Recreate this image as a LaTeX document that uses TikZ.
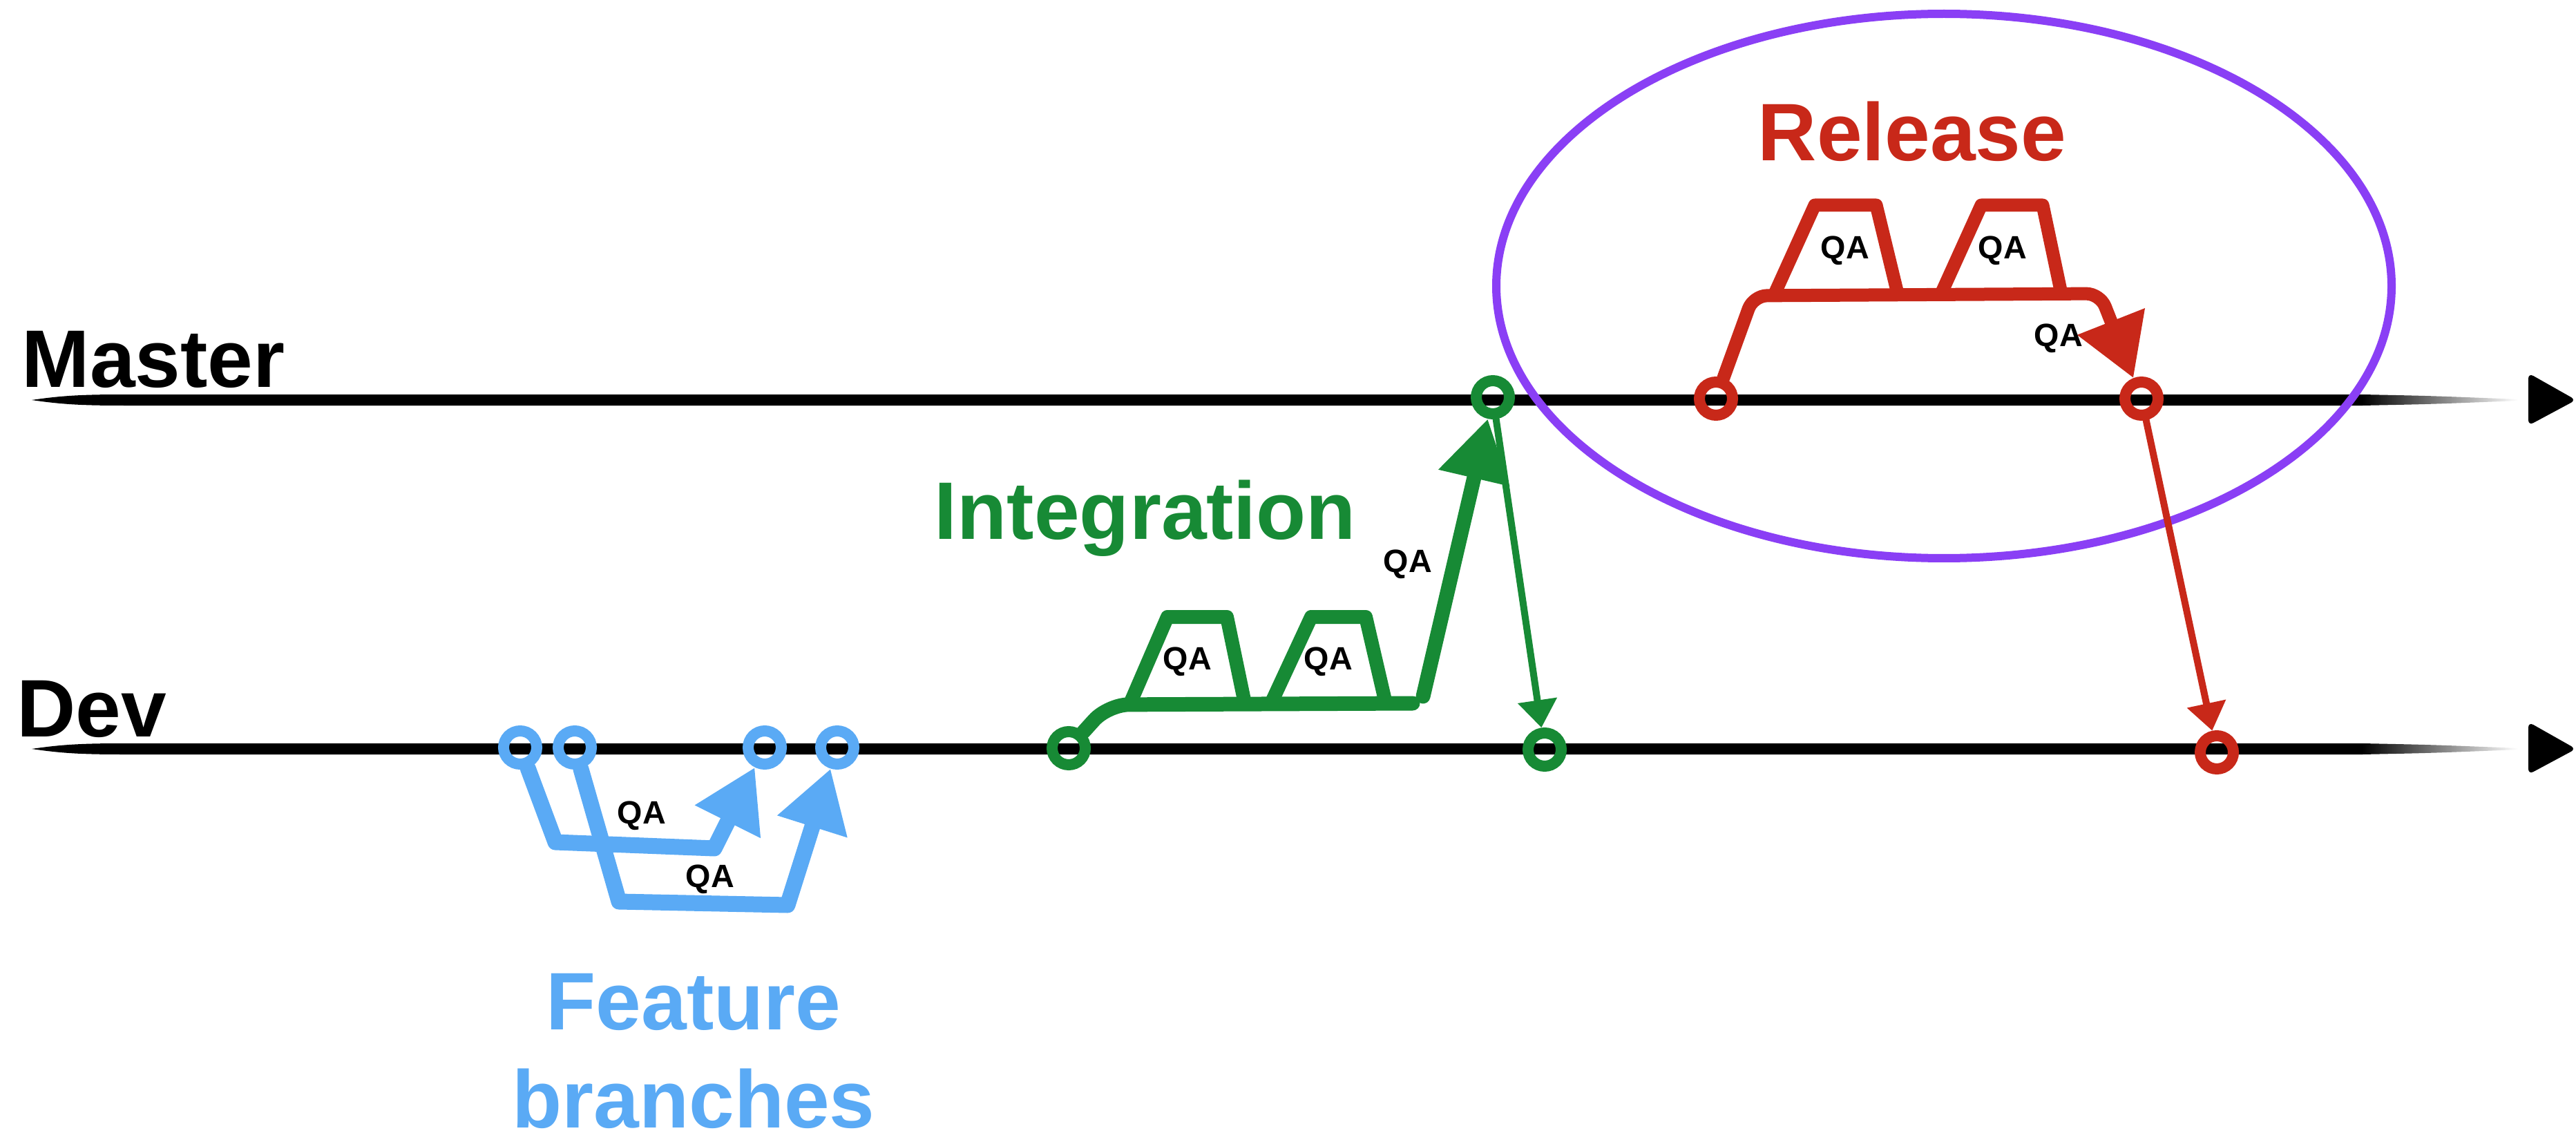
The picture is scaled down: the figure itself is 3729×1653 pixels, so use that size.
\documentclass[tikz,border=0pt]{standalone}
\usepackage{fontspec}
\setsansfont{Liberation Sans}
\usetikzlibrary{arrows.meta}
\definecolor{fblue}{RGB}{90,170,245}
\definecolor{igreen}{RGB}{23,138,53}
\definecolor{rred}{RGB}{200,40,25}
\definecolor{epurple}{RGB}{138,63,245}
\begin{document}
\begin{tikzpicture}[x=0.1mm,y=-0.1mm,
  ring/.style={circle,draw,line width=1.6mm,minimum size=4.8mm,inner sep=0pt},
  qa/.style={font=\sffamily\bfseries\fontsize{13.3}{15}\selectfont,inner sep=0pt,text=black},
  biglbl/.style={font=\sffamily\bfseries\fontsize{33.6}{40}\selectfont,inner sep=0pt,anchor=base},
  brush/.style={line width=#1,line cap=round,line join=round},
  bigtip/.style={-{Triangle[length=8.8mm,width=10mm]}},
  smalltip/.style={-{Triangle[length=4mm,width=5.5mm]}}]
\useasboundingbox (0,0) rectangle (3729,1653);
\fill[white] (0,0) rectangle (3729,1653);
% timelines
\foreach \yy in {579,1084}{
  \fill[black] (46,\yy) .. controls (90,\yy-6.5) and (120,\yy-8) .. (180,\yy-8) -- (3420,\yy-8) -- (3420,\yy+8) -- (180,\yy+8) .. controls (120,\yy+8) and (90,\yy+6.5) .. (46,\yy) -- cycle;
  \shade[left color=black,right color=white] (3419,\yy-8) .. controls (3520,\yy-6) .. (3645,\yy-1) -- (3645,\yy+1) .. controls (3520,\yy+6) .. (3419,\yy+8) -- cycle;
  \fill[black,rounded corners=0.8mm] (3660,\yy-39) -- (3729,\yy) -- (3660,\yy+37) -- cycle;
}
\node[biglbl,anchor=base west] (master) at (31,561) {Master};
\node[biglbl,anchor=base west] (dev) at (24,1066) {Dev};
% release ellipse
\draw[epurple,line width=1.2mm] (2814,414) ellipse [x radius=64.8mm, y radius=39.4mm];
% feature branches
\node[ring,fblue] (b1) at (753,1082) {};
\node[ring,fblue] (b2) at (832,1082) {};
\node[ring,fblue] (b3) at (1107,1082) {};
\node[ring,fblue] (b4) at (1212,1082) {};
\draw[fblue,brush=2.3mm,bigtip] (b1) -- (804,1219) -- (1034,1228) -- (b3);
\draw[fblue,brush=2.3mm,bigtip] (b2) -- (896,1305) -- (1140,1310) -- (b4);
\node[qa] (qa1) at (929,1181) {QA};
\node[qa] (qa2) at (1028,1273) {QA};
\node[biglbl,text=fblue] (feat1) at (1004,1490) {Feature};
\node[biglbl,text=fblue] (feat2) at (1004,1632) {branches};
% integration
\node[ring,igreen] (g1) at (1547,1083) {};
\node[ring,igreen] (g2) at (2161,575) {};
\node[ring,igreen] (g3) at (2236,1085) {};
\draw[igreen,brush=2.1mm,rounded corners=3mm] (g1) -- (1604,1020) -- (2045,1018);
\draw[igreen,brush=2mm] (1636,1018) -- (1690,893) -- (1776,893) -- (1802,1018);
\draw[igreen,brush=2mm] (1840,1018) -- (1898,893) -- (1977,893) -- (2006,1018);
\node[qa] (qa3) at (1719,958) {QA};
\node[qa] (qa4) at (1923,958) {QA};
\coordinate (gup) at (2060,1008);
\draw[igreen,brush=2.1mm,bigtip] (gup) -- (g2);
\draw[igreen,brush=1mm,smalltip] (g2) -- (g3);
\node[qa] (qa5) at (2038,817) {QA};
\node[biglbl,text=igreen] (integ) at (1658,780) {Integration};
% release
\node[ring,rred] (r1) at (2484,577) {};
\node[ring,rred] (r2) at (3100,577) {};
\node[ring,rred] (r3) at (3209,1089) {};
\draw[rred,brush=1.9mm,bigtip,rounded corners=2mm] (r1) -- (2538,428) -- (3040,425) -- (r2);
\draw[rred,brush=1.9mm] (2569,425) -- (2627,297) -- (2716,297) -- (2747,425);
\draw[rred,brush=1.9mm] (2810,425) -- (2868,297) -- (2957,297) -- (2984,425);
\node[qa] (qa6) at (2671,363) {QA};
\node[qa] (qa7) at (2899,363) {QA};
\node[qa] (qa8) at (2980,490) {QA};
\draw[rred,brush=1mm,smalltip] (r2) -- (r3);
\node[biglbl,text=rred] (rel) at (2768,233) {Release};
\end{tikzpicture}
\end{document}
